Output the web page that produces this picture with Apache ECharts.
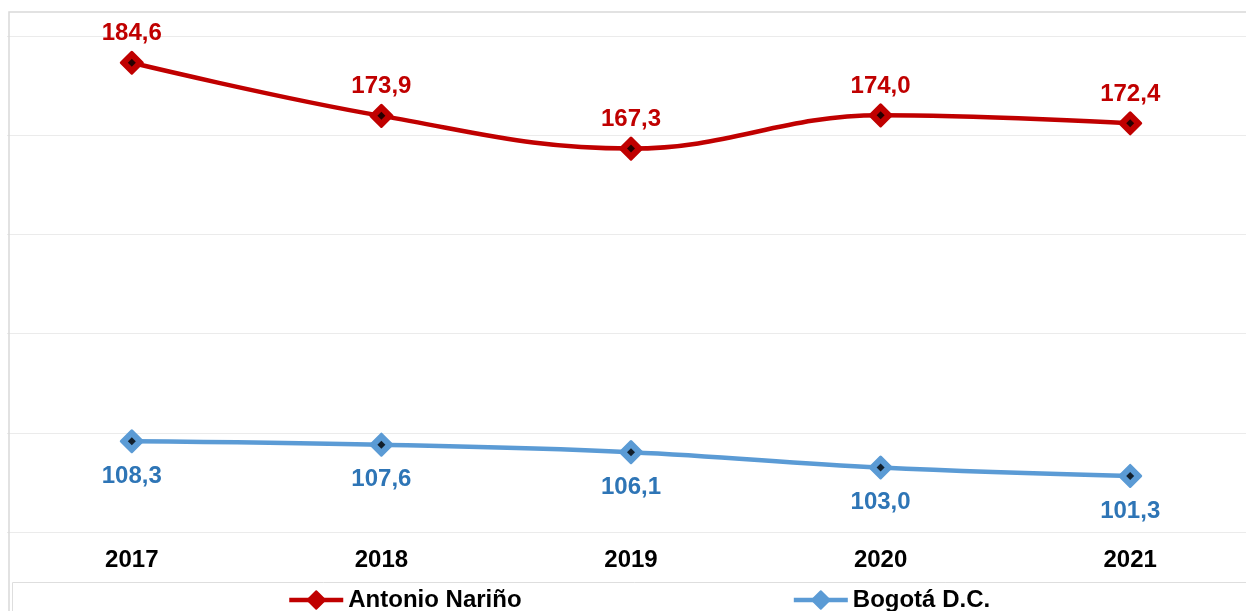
<!DOCTYPE html>
<html>
<head>
<meta charset="utf-8">
<title>Antonio Nariño vs Bogotá D.C.</title>
<script src="https://cdn.jsdelivr.net/npm/echarts/dist/echarts.min.js"></script>
<style>
  html, body { margin: 0; padding: 0; background: #fff; overflow: hidden; }
  /* el area de trazado sale un poco por la derecha, como en el original */
  #chart { width: 1256px; height: 611px; }
</style>
</head>
<body>
<div id="chart"></div>
<script>
// datos
var years = ['2017', '2018', '2019', '2020', '2021']
var antonioNarino = [184.6, 173.9, 167.3, 174.0, 172.4]
var bogota = [108.3, 107.6, 106.1, 103.0, 101.3]
var seriesNames = ['Antonio Nariño', 'Bogotá D.C.']

var RED = '#C00000'
var BLUE = '#5B9BD5'
var BLUE_TXT = '#2E75B6'
var FONT = '"Liberation Sans", Arial, sans-serif'

function coma(v) {
  return v.toFixed(1).replace('.', ',')
}

// serie de linea con rombo grande
function lineSerie(name, data, color, labelColor, pos, dist) {
  return {
    name: name,
    type: 'line',
    data: data,
    smooth: 0.4,
    symbol: 'diamond',
    symbolSize: 21,
    lineStyle: { color: color, width: 4.5 },
    itemStyle: { color: color, borderColor: color, borderWidth: 3, borderJoin: 'round' },
    label: {
      show: true,
      position: pos,
      distance: dist,
      color: labelColor,
      fontSize: 24,
      fontWeight: 'bold',
      fontFamily: FONT,
      formatter: function (p) { return coma(p.value) }
    },
    z: 2
  }
}

// punto negro en el centro del marcador
function dotSerie(name, data) {
  return {
    name: name,
    type: 'scatter',
    data: data,
    symbol: 'diamond',
    symbolSize: 8,
    itemStyle: { color: '#000' },
    silent: true,
    z: 5
  }
}

var chart = echarts.init(document.getElementById('chart'))
chart.setOption({
  backgroundColor: '#fff',
  animation: false,
  grid: {
    left: 7,
    top: 36,
    width: 1248,
    height: 496,
    containLabel: false
  },
  xAxis: {
    type: 'category',
    data: years,
    boundaryGap: true,
    axisLine: { show: false },
    axisTick: { show: false },
    axisLabel: {
      margin: 16,
      color: '#000',
      fontSize: 24,
      fontWeight: 'bold',
      fontFamily: FONT
    }
  },
  yAxis: {
    type: 'value',
    min: 90,
    max: 190,
    interval: 20,
    axisLabel: { show: false },
    axisLine: { show: false },
    axisTick: { show: false },
    splitLine: { lineStyle: { color: '#ebebeb', width: 1 } }
  },
  legend: {
    data: seriesNames,
    left: 287,
    top: 588,
    padding: 0,
    itemWidth: 54,
    itemHeight: 22,
    itemGap: 270,
    lineStyle: { width: 4.5 },
    textStyle: {
      color: '#000',
      fontSize: 24,
      fontWeight: 'bold',
      fontFamily: FONT
    }
  },
  series: [
    lineSerie(seriesNames[0], antonioNarino, RED, RED, 'top', 5),
    lineSerie(seriesNames[1], bogota, BLUE, BLUE_TXT, 'bottom', 11),
    dotSerie('dot1', antonioNarino),
    dotSerie('dot2', bogota)
  ],
  graphic: [
    // borde exterior del grafico
    {
      type: 'rect',
      shape: { x: 9, y: 12, width: 1400, height: 800 },
      style: { fill: 'none', stroke: '#d9d9d9', lineWidth: 1.5 },
      silent: true,
      z: 100
    },
    // caja de la leyenda
    {
      type: 'rect',
      shape: { x: 12.5, y: 582.5, width: 1400, height: 100 },
      style: { fill: 'none', stroke: '#dedede', lineWidth: 1 },
      silent: true,
      z: 100
    }
  ]
})
</script>
</body>
</html>
